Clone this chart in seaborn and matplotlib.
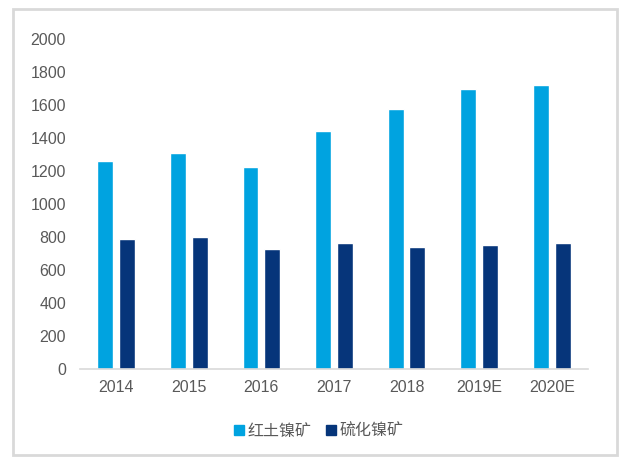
import numpy as np
import pandas as pd
import matplotlib
matplotlib.use("Agg")
import matplotlib.pyplot as plt
import seaborn as sns
from matplotlib.patches import Rectangle

# Data
years = ["2014", "2015", "2016", "2017", "2018", "2019E", "2020E"]
laterite = [1260, 1308, 1224, 1442, 1576, 1697, 1721]
sulfide = [788, 800, 727, 764, 739, 752, 764]
series_names = ["红土镍矿", "硫化镍矿"]
colors = ["#00A3E0", "#06357A"]

df = pd.DataFrame({
    "year": years * 2,
    "value": laterite + sulfide,
    "type": [series_names[0]] * len(years) + [series_names[1]] * len(years),
})

sns.set_theme(style="white")
plt.rcParams["font.family"] = ["Liberation Sans", "Noto Sans CJK SC", "DejaVu Sans"]

fig = plt.figure(figsize=(6.19, 4.59), dpi=100)
ax = fig.add_axes([0.129, 0.196, 0.821, 0.719])

sns.barplot(data=df, x="year", y="value", hue="type", order=years,
            hue_order=series_names, palette=colors, width=0.6, gap=0.27,
            saturation=1, ax=ax, legend=False)

ax.set_ylim(0, 2000)
ax.set_yticks(np.arange(0, 2001, 200))
ax.set_xlim(-0.5, len(years) - 0.5)
ax.set_xlabel("")
ax.set_ylabel("")
for s in ["top", "right", "left"]:
    ax.spines[s].set_visible(False)
ax.spines["bottom"].set_color("#d9d9d9")
ax.spines["bottom"].set_linewidth(1.2)
ax.tick_params(axis="both", length=0, labelsize=11.5, colors="#595959", pad=8)
ax.tick_params(axis="y", pad=10)

# legend
handles = [Rectangle((0, 0), 1, 1, color=c) for c in colors]
fig.legend(handles, series_names, loc="center", bbox_to_anchor=(0.515, 0.06),
           ncol=2, frameon=False, handlelength=0.6, handleheight=0.6,
           handletextpad=0.25, columnspacing=0.9,
           prop={"family": ["Noto Sans CJK SC"], "size": 11.5},
           labelcolor="#595959")

# outer border
fig.patches.append(Rectangle((13 / 619, 1 - 455 / 459), 604 / 619, 446 / 459,
                             transform=fig.transFigure, fill=False,
                             edgecolor="#d9d9d9", linewidth=2))

fig.savefig("out.png", dpi=100)
